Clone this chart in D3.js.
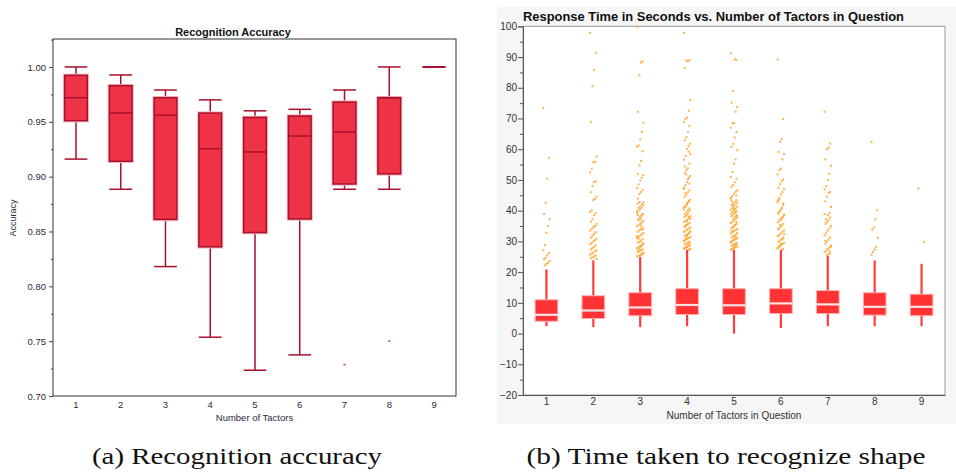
<!DOCTYPE html>
<html>
<head>
<meta charset="utf-8">
<script src="https://cdn.jsdelivr.net/npm/d3@7"></script>
<style>
  body { margin: 0; background: #fff; }
  text { font-family: "Liberation Sans", Arial, sans-serif; }
  text.caption { font-family: "Liberation Serif", Tinos, "Times New Roman", "Nimbus Roman", "Noto Serif", serif; }
</style>
</head>
<body>
<div id="chart"></div>
<script>
// ---- data: recognition accuracy (left) ----
const tactors = [1, 2, 3, 4, 5, 6, 7, 8, 9];
const accLow    = [0.916, 0.8885, 0.818, 0.7536, 0.7235, 0.7375, 0.8885, 0.8885, 1.0];
const accQ1     = [0.951, 0.914, 0.861, 0.836, 0.849, 0.8614, 0.8933, 0.9025, 1.0];
const accMedian = [0.972, 0.958, 0.956, 0.9255, 0.9225, 0.937, 0.9407, 0.972, 1.0];
const accQ3     = [0.9924, 0.983, 0.972, 0.958, 0.954, 0.9553, 0.968, 0.972, 1.0];
const accHigh   = [1.0, 0.9927, 0.979, 0.970, 0.960, 0.9614, 0.979, 1.0, 1.0];
const accOutliers = [[], [], [], [], [], [], [0.7286], [0.75], []];
const accTicks = [0.70, 0.75, 0.80, 0.85, 0.90, 0.95, 1.00];

// ---- data: response time (right) ----
const rtLow    = [2.4, 2.1, 2.1, 2.4, 0.0, 1.8, 2.4, 2.4, 2.4];
const rtQ1     = [4.0, 4.9, 5.8, 6.2, 6.2, 6.5, 6.5, 6.0, 5.8];
const rtMedian = [6.1, 7.5, 8.5, 9.3, 9.2, 9.8, 9.5, 8.7, 8.7];
const rtQ3     = [11.0, 12.3, 13.3, 14.6, 14.6, 14.6, 14.0, 13.3, 12.8];
const rtHigh   = [20.9, 23.8, 24.9, 27.2, 27.2, 27.2, 25.2, 23.8, 22.7];
const rtTicks = [-20, -10, 0, 10, 20, 30, 40, 50, 60, 70, 80, 90, 100];
const rtOutliers = [
  [73.5, 57.2, 50.4, 42.6, 38.9, 37.2, 35.0, 32.8, 28.8, 27.1, 26.2, 25.4, 24.6, 24.2, 23.6, 23.0, 22.7, 22.2],
  [97.9, 91.4, 85.8, 80.5, 68.9, 57.6, 55.9, 55.7, 53.7, 52.4, 49.5, 49.3, 48.0, 46.0, 44.5, 43.8, 43.4, 40.1,
   39.6, 39.3, 38.5, 37.2, 36.4, 35.7, 35.0, 34.6, 34.0, 33.5, 33.0, 32.4, 31.8, 31.2, 30.9, 30.4, 30.0, 29.5,
   29.1, 28.7, 28.2, 27.8, 27.4, 27.0, 26.7, 26.3, 26.0, 25.7, 25.4, 25.1, 24.8, 24.5, 24.3],
  [99.9, 88.5, 88.2, 84.1, 72.2, 68.6, 65.7, 63.2, 61.2, 60.8, 59.3, 56.2, 54.7, 52.0, 51.6, 50.7, 49.8, 48.5,
   47.3, 46.8, 46.1, 45.4, 43.9, 42.7, 42.1, 41.4, 40.9, 39.3, 38.8, 37.4, 42.8, 42.3, 41.8, 41.0, 40.5, 40.1,
   39.7, 38.9, 38.3, 37.8, 37.1, 36.6, 36.2, 35.8, 35.3, 34.9, 34.4, 34.0, 33.6, 33.1, 32.7, 32.3, 31.9, 31.5,
   31.1, 30.7, 30.3, 29.9, 29.6, 29.2, 28.8, 28.5, 28.1, 27.8, 27.4, 27.1, 26.8, 26.5, 26.2, 25.9, 25.6, 25.3,
   25.1, 29.4, 28.3, 27.6, 26.9, 26.3, 25.7, 25.4, 30.9, 31.7, 33.8, 35.1, 36.9, 38.6],
  [97.9, 89.0, 88.6, 88.9, 86.4, 76.0, 72.5, 70.3, 69.8, 68.9, 67.6, 65.7, 63.9, 62.9, 61.8, 61.0, 60.1, 57.8,
   56.6, 55.3, 53.8, 53.2, 52.3, 51.3, 50.7, 49.3, 48.3, 47.5, 46.6, 46.0, 45.2, 44.5, 43.6, 42.8, 42.0, 41.2,
   40.4, 39.9, 39.0, 38.5, 37.9, 37.3, 43.2, 42.5, 41.7, 41.0, 40.7, 40.1, 39.5, 38.8, 38.2, 37.6, 37.0, 36.7,
   36.3, 36.0, 35.6, 35.2, 34.9, 34.5, 34.2, 33.8, 33.5, 33.1, 32.8, 32.4, 32.1, 31.8, 31.4, 31.1, 30.8, 30.5,
   30.2, 29.9, 29.6, 29.3, 29.0, 28.7, 28.4, 28.1, 27.9, 27.6, 27.4, 27.2, 35.4, 34.7, 33.3, 32.6, 31.6, 30.9,
   30.0, 29.4, 28.9, 28.2, 27.8, 27.5, 38.0, 36.5, 45.7, 47.1, 48.8, 50.2, 51.8, 54.4, 58.4, 59.2],
  [91.2, 89.1, 89.3, 79.0, 75.1, 73.7, 72.2, 68.6, 68.4, 67.0, 65.6, 63.8, 61.8, 60.8, 59.7, 56.7, 55.3, 52.6,
   51.0, 50.4, 49.2, 48.3, 47.8, 46.6, 46.1, 45.5, 44.7, 43.9, 43.4, 42.8, 42.3, 41.7, 41.2, 40.6, 40.1, 39.6,
   39.0, 38.5, 38.0, 37.4, 43.1, 42.6, 42.0, 41.4, 40.9, 40.3, 39.8, 39.3, 38.8, 38.2, 37.7, 37.2, 36.8, 36.4,
   36.0, 35.6, 35.2, 34.8, 34.4, 34.0, 33.7, 33.3, 33.0, 32.6, 32.3, 32.0, 31.7, 31.3, 31.0, 30.7, 30.4, 30.1,
   29.8, 29.5, 29.2, 28.9, 28.6, 28.3, 28.0, 27.8, 27.5, 27.3, 36.2, 35.4, 34.6, 33.5, 32.8, 31.5, 30.9, 30.2,
   29.6, 29.0, 28.5, 27.9, 27.4, 38.3, 39.5, 40.6, 41.9, 44.2, 45.0],
  [89.2, 69.8, 63.3, 62.4, 59.1, 58.4, 56.7, 53.7, 53.2, 51.8, 50.1, 49.6, 48.6, 47.4, 47.0, 46.1, 45.3, 44.2,
   43.3, 42.3, 41.0, 39.8, 39.0, 38.5, 37.7, 37.1, 43.6, 42.7, 41.8, 40.6, 40.1, 39.4, 38.7, 38.0, 37.4, 36.8,
   36.2, 35.7, 35.1, 34.6, 34.1, 33.6, 33.1, 32.6, 32.1, 31.7, 31.2, 30.8, 30.3, 29.9, 29.5, 29.1, 28.7, 28.3,
   27.9, 27.5, 27.2, 35.4, 33.9, 32.3, 30.6, 29.3, 28.5, 27.7],
  [72.2, 61.8, 60.5, 60.0, 56.7, 54.6, 52.0, 49.9, 48.0, 46.9, 46.1, 45.8, 44.5, 43.0, 41.2, 39.3, 38.5, 37.2,
   38.9, 37.8, 36.9, 36.3, 35.7, 35.0, 34.3, 33.5, 32.8, 32.0, 31.3, 30.6, 29.9, 29.2, 28.6, 28.0, 27.5, 27.0,
   26.5, 26.1, 25.8, 25.5, 30.2, 28.3, 26.8],
  [62.4, 40.1, 37.2, 34.5, 33.8, 31.2, 28.2, 27.3, 26.5, 25.7],
  [47.2, 29.8]
];

const svg = d3.select('#chart').append('svg')
  .attr('width', 956)
  .attr('height', 476);

// ================= left: Recognition Accuracy =================
const accX = d3.scaleBand().domain(tactors).range([53.6, 456.4]);
const accY = d3.scaleLinear().domain([0.70, 1.0255]).range([396, 39]);
const accBoxW = 22.7;
const accDark = '#a8102c';

svg.append('text')
  .attr('x', 233).attr('y', 36)
  .attr('text-anchor', 'middle')
  .style('font-size', '11px').style('font-weight', 'bold').style('fill', '#111')
  .text('Recognition Accuracy');

// minor ticks
svg.append('g')
  .attr('transform', 'translate(53,0)')
  .call(d3.axisLeft(accY).tickValues([0.725, 0.775, 0.825, 0.875, 0.925, 0.975, 1.025]).tickSize(2).tickFormat(''))
  .call(g => g.select('.domain').remove())
  .call(g => g.selectAll('line').attr('stroke', '#444'));

svg.append('g')
  .attr('transform', 'translate(53,0)')
  .call(d3.axisLeft(accY).tickValues(accTicks).tickSize(4).tickPadding(3).tickFormat(d3.format('.2f')))
  .call(g => g.select('.domain').remove())
  .call(g => g.selectAll('line').attr('stroke', '#444'))
  .call(g => g.selectAll('text').style('font-size', '9.5px').style('fill', '#2a2a3a')
    .style('font-family', '"Liberation Sans", Arial, sans-serif'));

svg.append('g')
  .attr('transform', 'translate(0,396)')
  .call(d3.axisBottom(accX).tickSize(0).tickPadding(5))
  .call(g => g.select('.domain').remove())
  .call(g => g.selectAll('text').style('font-size', '9.5px').style('fill', '#2a2a3a')
    .style('font-family', '"Liberation Sans", Arial, sans-serif'));

svg.append('rect')
  .attr('x', 53).attr('y', 39).attr('width', 403).attr('height', 357)
  .attr('fill', 'none').attr('stroke', '#333').attr('stroke-width', 1);

svg.append('text')
  .attr('x', 254.5).attr('y', 420.5)
  .attr('text-anchor', 'middle')
  .style('font-size', '9.5px').style('fill', '#2a2a3a')
  .text('Number of Tactors');

svg.append('text')
  .attr('transform', 'translate(16,218) rotate(-90)')
  .attr('text-anchor', 'middle')
  .style('font-size', '9px').style('fill', '#2a2a3a')
  .text('Accuracy');

const accG = svg.append('g');
tactors.forEach(function(t, i) {
  const cx = accX(t) + accX.bandwidth() / 2;
  // whiskers
  accG.append('line')
    .attr('x1', cx).attr('x2', cx)
    .attr('y1', accY(accHigh[i])).attr('y2', accY(accQ3[i]))
    .attr('stroke', accDark).attr('stroke-width', 1.5);
  accG.append('line')
    .attr('x1', cx).attr('x2', cx)
    .attr('y1', accY(accQ1[i])).attr('y2', accY(accLow[i]))
    .attr('stroke', accDark).attr('stroke-width', 1.5);
  [accHigh[i], accLow[i]].forEach(function(v) {
    accG.append('line')
      .attr('x1', cx - accBoxW / 2).attr('x2', cx + accBoxW / 2)
      .attr('y1', accY(v)).attr('y2', accY(v))
      .attr('stroke', accDark).attr('stroke-width', 1.5);
  });
  // box with a soft halo
  const top = accY(accQ3[i]), bot = accY(accQ1[i]);
  accG.append('rect')
    .attr('x', cx - accBoxW / 2).attr('y', top)
    .attr('width', accBoxW).attr('height', bot - top)
    .attr('fill', 'none').attr('stroke', '#f6bcc6').attr('stroke-width', 3.5);
  accG.append('rect')
    .attr('x', cx - accBoxW / 2).attr('y', top)
    .attr('width', accBoxW).attr('height', bot - top)
    .attr('fill', '#ee3347').attr('stroke', accDark).attr('stroke-width', 1.5);
  accG.append('line')
    .attr('x1', cx - accBoxW / 2).attr('x2', cx + accBoxW / 2)
    .attr('y1', accY(accMedian[i])).attr('y2', accY(accMedian[i]))
    .attr('stroke', accDark).attr('stroke-width', 1.5);
  accOutliers[i].forEach(function(v) {
    accG.append('rect')
      .attr('x', cx - 1).attr('y', accY(v) - 0.8)
      .attr('width', 2).attr('height', 1.6)
      .attr('fill', '#c23a55');
  });
});

// ================= right: Response Time =================
const rtX = d3.scaleBand().domain(tactors).range([523, 945]);
const rtY = d3.scaleLinear().domain([-20, 100]).range([395, 26.3]);
const rtBoxW = 22.7;

svg.append('rect')
  .attr('x', 497).attr('y', 7).attr('width', 459).attr('height', 417)
  .attr('fill', '#f6f6f6');
svg.append('rect')
  .attr('x', 523).attr('y', 26.3).attr('width', 422).attr('height', 368.7)
  .attr('fill', '#fff').attr('stroke', '#9a9a9a').attr('stroke-width', 1);

svg.append('text')
  .attr('x', 523).attr('y', 21)
  .attr('textLength', 381).attr('lengthAdjust', 'spacingAndGlyphs')
  .style('font-size', '12.5px').style('font-weight', 'bold').style('fill', '#111')
  .text('Response Time in Seconds vs. Number of Tactors in Question');

// minor ticks every 5
svg.append('g')
  .attr('transform', 'translate(523,0)')
  .call(d3.axisLeft(rtY).tickValues(d3.range(-15, 100, 10)).tickSize(3).tickFormat(''))
  .call(g => g.select('.domain').remove())
  .call(g => g.selectAll('line').attr('stroke', '#555'));

svg.append('g')
  .attr('transform', 'translate(523,0)')
  .call(d3.axisLeft(rtY).tickValues(rtTicks).tickSize(5).tickPadding(1))
  .call(g => g.select('.domain').attr('stroke', '#555'))
  .call(g => g.selectAll('line').attr('stroke', '#555'))
  .call(g => g.selectAll('text').style('font-size', '10px').style('fill', '#333')
    .style('font-family', '"Liberation Sans", Arial, sans-serif'));

svg.append('g')
  .attr('transform', 'translate(0,395)')
  .call(d3.axisBottom(rtX).tickSize(0).tickPadding(3))
  .call(g => g.select('.domain').attr('stroke', '#555').attr('stroke-width', 1.2))
  .call(g => g.selectAll('text').style('font-size', '10px').style('fill', '#333')
    .style('font-family', '"Liberation Sans", Arial, sans-serif'));

svg.append('text')
  .attr('x', 734).attr('y', 419)
  .attr('text-anchor', 'middle')
  .style('font-size', '10px').style('fill', '#333')
  .text('Number of Tactors in Question');

const rtG = svg.append('g');
tactors.forEach(function(t, i) {
  const cx = rtX(t) + rtX.bandwidth() / 2;
  // outlier dots, spread a little sideways so they do not overlap
  rtOutliers[i].forEach(function(v, k) {
    const dx = ((k * 7) % 9 - 4) * 0.8;
    rtG.append('rect')
      .attr('x', cx + dx - 1).attr('y', rtY(v) - 1)
      .attr('width', 2).attr('height', 2)
      .attr('fill', '#ffa630').attr('opacity', 0.85);
  });
  rtG.append('line')
    .attr('x1', cx).attr('x2', cx)
    .attr('y1', rtY(rtHigh[i])).attr('y2', rtY(rtLow[i]))
    .attr('stroke', '#ff3b3b').attr('stroke-width', 2.2);
  const top = rtY(rtQ3[i]), bot = rtY(rtQ1[i]);
  rtG.append('rect')
    .attr('x', cx - rtBoxW / 2).attr('y', top)
    .attr('width', rtBoxW).attr('height', bot - top)
    .attr('fill', '#ff3333').attr('stroke', '#ffb0b0').attr('stroke-width', 1);
  rtG.append('line')
    .attr('x1', cx - rtBoxW / 2).attr('x2', cx + rtBoxW / 2)
    .attr('y1', rtY(rtMedian[i])).attr('y2', rtY(rtMedian[i]))
    .attr('stroke', '#ffe4e4').attr('stroke-width', 2.2);
});

// ================= captions =================
svg.append('text')
  .attr('class', 'caption')
  .attr('x', 237).attr('y', 464)
  .attr('text-anchor', 'middle')
  .attr('textLength', 290).attr('lengthAdjust', 'spacingAndGlyphs')
  .style('font-size', '23px').style('fill', '#111')
  .text('(a) Recognition accuracy');

svg.append('text')
  .attr('class', 'caption')
  .attr('x', 726).attr('y', 464)
  .attr('text-anchor', 'middle')
  .attr('textLength', 399).attr('lengthAdjust', 'spacingAndGlyphs')
  .style('font-size', '23px').style('fill', '#111')
  .text('(b) Time taken to recognize shape');
</script>
</body>
</html>
